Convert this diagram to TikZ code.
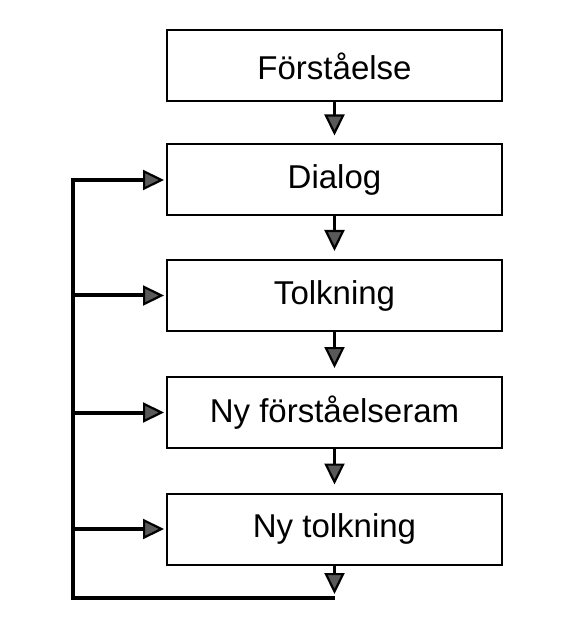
\documentclass[tikz,border=0pt]{standalone}
\usepackage{fontspec}
\setmainfont{Liberation Sans}
\usetikzlibrary{arrows.meta}

\begin{document}
\begin{tikzpicture}[x=.5pt, y=-.5pt,
  box/.style={draw, line width=1pt, minimum width=167.5pt, minimum height=35.5pt,
    inner sep=0pt, font=\fontsize{16.5}{18}\selectfont},
  tip/.style={-{Triangle[length=10.5pt, width=10pt, fill=gray!70!black, line width=1.1pt]}},
  flow/.style={tip, line width=1.8pt, shorten >=4pt},
  back/.style={tip, line width=2pt, shorten >=1pt}]
\useasboundingbox (0,0) rectangle (584,619);
% boxes
\node[box] (forst) at (334.5,66) {Förståelse};
\node[box] (dialog) at (334.5,180) {Dialog};
\node[box] (tolk) at (334.5,295.5) {Tolkning};
\node[box] (nyram) at (334.5,412.5) {Ny förståelseram};
\node[box] (nytolk) at (334.5,529) {Ny tolkning};
% downward flow
\draw[flow] (forst) -- (dialog);
\draw[flow] (dialog) -- (tolk);
\draw[flow] (tolk) -- (nyram);
\draw[flow] (nyram) -- (nytolk);
% feedback loop
\coordinate (bot) at (334.5,598);
\coordinate (spine) at (73,598);
\draw[flow, shorten >=2pt] (nytolk) -- (bot);
\draw[back] (bot) -- (spine) |- (dialog.west);
\foreach \n in {tolk,nyram,nytolk}
  \draw[back] (spine |- \n.west) -- (\n.west);
\end{tikzpicture}
\end{document}
